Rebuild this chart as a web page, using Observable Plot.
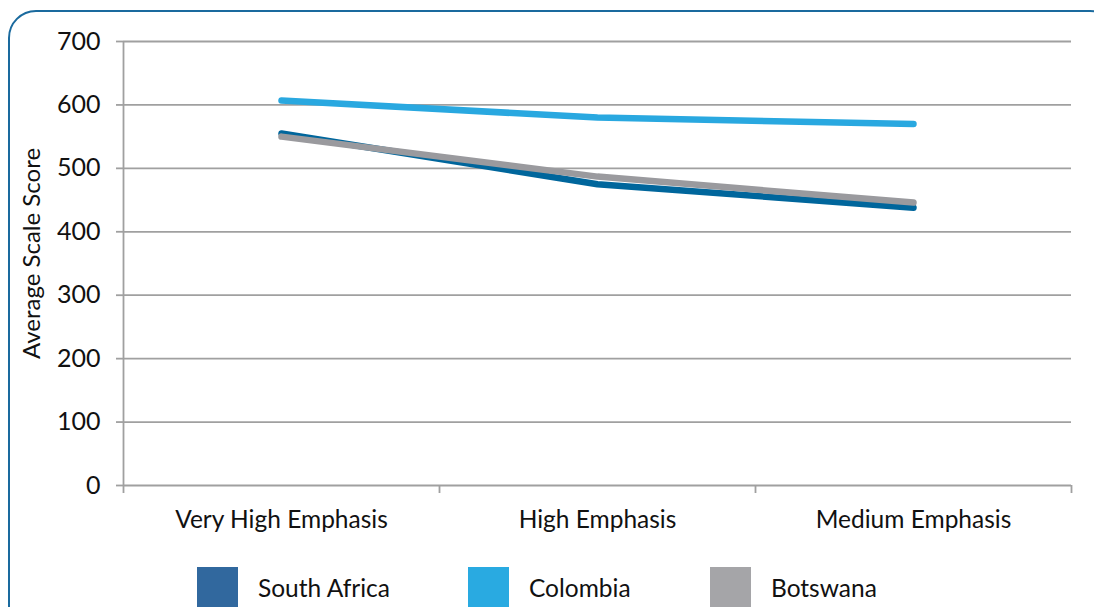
<!DOCTYPE html>
<html>
<head>
<meta charset="utf-8">
<script src="https://cdn.jsdelivr.net/npm/d3@7"></script>
<script src="https://cdn.jsdelivr.net/npm/@observablehq/plot@0.6"></script>
<style>
  html, body { margin: 0; padding: 0; background: #fff; }
  #wrap { position: relative; width: 1094px; height: 607px; overflow: hidden; font-family: Lato, "Open Sans", sans-serif; }
  #frame { position: absolute; left: 8px; top: 10px; width: 1110px; height: 640px; border: 2.5px solid #1a6a9e; border-radius: 28px; box-sizing: border-box; }
  #chart { position: absolute; left: 0; top: 0; }
  #legend { position: absolute; top: 567px; left: 0; width: 1094px; height: 40px; }
  .item { position: absolute; top: 0; display: flex; align-items: center; }
  .sw { width: 41px; height: 41px; }
  .lb { font-size: 24.5px; color: #111; margin-left: 20px; }
</style>
</head>
<body>
<div id="wrap">
  <div id="frame"></div>
  <div id="chart"></div>
  <div id="legend"></div>
</div>
<script>
const categories = ["Very High Emphasis", "High Emphasis", "Medium Emphasis"];
const seriesNames = ["South Africa", "Colombia", "Botswana"];
const southAfrica = [555, 475, 438];
const colombia = [607, 580, 570];
const botswana = [550, 487, 446];
const lineColors = ["#00669c", "#29a8e0", "#9a9a9e"];
const legendColors = ["#31689e", "#29aae1", "#a5a5a8"];
const yTicks = [0, 100, 200, 300, 400, 500, 600, 700];

const seriesValues = [southAfrica, colombia, botswana];
const rows = [];
seriesNames.forEach((s, si) => {
  seriesValues[si].forEach((v, i) => rows.push({series: s, idx: i, value: v}));
});
const boundaries = d3.range(categories.length + 1).map(i => i - 0.5);
const centers = d3.range(categories.length);

const chart = Plot.plot({
  width: 1094,
  height: 560,
  marginLeft: 123,
  marginRight: 23,
  marginTop: 41,
  marginBottom: 75,
  style: { fontFamily: "Lato, 'Open Sans', sans-serif", fontSize: "24px", color: "#111", background: "transparent" },
  x: { type: "linear", domain: [-0.5, categories.length - 0.5] },
  y: { domain: [0, 700] },
  color: { domain: seriesNames, range: lineColors },
  marks: [
    Plot.gridY(yTicks, { stroke: "#a0a0a0", strokeOpacity: 1, strokeWidth: 1.8 }),
    Plot.axisY(yTicks, { tickSize: 7, tickPadding: 16, stroke: "#a0a0a0", strokeWidth: 1.8, fill: "#111", fontSize: 25, label: null }),
    Plot.ruleX([-0.5], { stroke: "#a0a0a0", strokeWidth: 1.8 }),
    Plot.axisX(boundaries, { tickSize: 8, stroke: "#a0a0a0", strokeWidth: 1.8, tickFormat: () => "", label: null }),
    Plot.axisX(centers, { tickSize: 0, tickPadding: 25, tickFormat: i => categories[i], fill: "#111", fontSize: 24.5, label: null }),
    Plot.text(["Average Scale Score"], { frameAnchor: "left", textAnchor: "middle", dx: -91, dy: -10, rotate: -90, fontSize: 24, fill: "#111" }),
    Plot.line(rows, { x: "idx", y: "value", z: "series", stroke: "series", strokeWidth: 6.5, strokeLinecap: "round", strokeLinejoin: "round" })
  ]
});
document.getElementById("chart").appendChild(chart);

const legend = document.getElementById("legend");
const legendX = [197, 468, 710];
seriesNames.forEach((s, i) => {
  const it = document.createElement("div");
  it.className = "item";
  it.style.left = legendX[i] + "px";
  it.innerHTML = `<div class="sw" style="background:${legendColors[i]}"></div><div class="lb">${s}</div>`;
  legend.appendChild(it);
});
</script>
</body>
</html>
